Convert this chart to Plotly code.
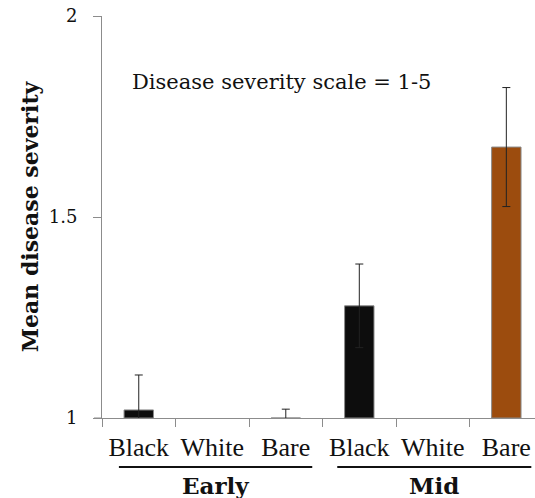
import plotly.graph_objects as go

groups = ["Early", "Early", "Early", "Mid", "Mid", "Mid"]
treatments = ["Black", "White", "Bare", "Black", "White", "Bare"]
means = [1.02, None, 1.0, 1.279, None, 1.674]
errors = [0.087, 0, 0.022, 0.104, 0, 0.148]
bar_colors = ["#0d0d0d", "#ffffff", "#ffffff", "#0d0d0d", "#ffffff", "#9c4c0e"]
y_ticks = [1, 1.5, 2]
y_tick_labels = ["1", "1.5", "2"]
note = "Disease severity scale = 1-5"
y_title = "Mean disease severity"

xpos = list(range(len(treatments)))

fig = go.Figure()
fig.add_trace(go.Bar(
    x=xpos, y=[(m - 1) if m is not None else None for m in means], base=1,
    width=0.4,
    marker=dict(color=bar_colors, line=dict(color="#8a8a8a", width=1)),
    error_y=dict(type="data", array=errors, visible=True, color="#222222", thickness=1, width=4),
    showlegend=False,
))

fig.update_layout(
    width=535, height=498,
    margin=dict(l=102, r=0, t=16, b=80, autoexpand=False),
    plot_bgcolor="white", paper_bgcolor="white",
    font=dict(family="DejaVu Serif", color="#111111"),
    xaxis=dict(
        range=[-0.5, 5.39],
        tickvals=xpos, ticktext=treatments,
        ticks="", showgrid=False, zeroline=False,
        showline=True, linecolor="#8c8c8c", linewidth=1,
        tickfont=dict(family="Liberation Serif", size=26, color="#111111"),
        ticklabelstandoff=6, ticklabeloverflow="allow",
        minor=dict(tick0=-0.5, dtick=1, ticks="outside", ticklen=8, tickcolor="#8c8c8c", tickwidth=1, showgrid=False),
    ),
    yaxis=dict(
        range=[1, 2],
        tickvals=y_ticks, ticktext=y_tick_labels,
        ticks="outside", ticklen=8, tickcolor="#8c8c8c",
        showgrid=False, zeroline=False,
        showline=True, linecolor="#8c8c8c", linewidth=1,
        tickfont=dict(family="DejaVu Serif", size=18, color="#111111"),
        ticklabelstandoff=12, ticklabeloverflow="allow",
        title=dict(text="<b>" + y_title + "</b>", font=dict(family="DejaVu Serif", size=22, color="#111111"), standoff=4),
    ),
)

# short extension of the x axis line to the left of the y axis
fig.add_shape(type="line", xref="paper", yref="y", x0=-8 / 433, x1=0, y0=1, y1=1,
              line=dict(color="#8c8c8c", width=1))

fig.add_annotation(xref="x", yref="y", x=(281 - 102) / 73.5 - 0.5, y=1 + (418 - 82) / 402,
                   text=note, showarrow=False, xanchor="center", yanchor="middle",
                   font=dict(family="DejaVu Serif", size=21, color="#111111"))

# group labels and underlines
for name, x0, x1 in [("Early", -0.27, 2.36), ("Mid", 2.70, 5.34)]:
    fig.add_shape(type="line", xref="x", yref="paper", x0=x0, x1=x1,
                  y0=-(467 - 418) / 402, y1=-(467 - 418) / 402,
                  line=dict(color="#111111", width=2))
    fig.add_annotation(xref="x", yref="paper", x=(x0 + x1) / 2, y=-(485 - 418) / 402,
                       text="<b>" + name + "</b>", showarrow=False, xanchor="center", yanchor="middle",
                       font=dict(family="DejaVu Serif", size=23, color="#111111"))

fig.write_html("out.html", config={"displayModeBar": False},
               post_script="document.body.style.margin='0';document.body.style.overflow='hidden';")
